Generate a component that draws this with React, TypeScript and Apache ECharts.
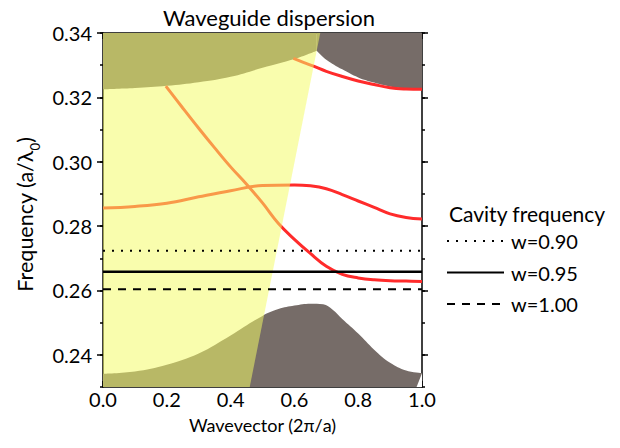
import React, { useEffect, useRef } from "react";
import * as echarts from "echarts";

// ---- data ----
const xMin = 0;
const xMax = 1;
const yMin = 0.23;
const yMax = 0.34;
const xLabelStep = 0.2;
const yMinorStep = 0.01;
const yMajorTicks = [0.24, 0.26, 0.28, 0.3, 0.32, 0.34];

const cavityNames = ["w=0.90", "w=0.95", "w=1.00"];
const cavityFreq = [0.2723, 0.2658, 0.2604];

// upper bulk band lower edge (two branches meeting at the light line)
const upperEdgeLeftK = [0, 0.1, 0.2, 0.3, 0.4, 0.5, 0.6, 0.67];
const upperEdgeLeftF = [0.3225, 0.3229, 0.3236, 0.3247, 0.3264, 0.3292, 0.3319, 0.3345];
const upperEdgeRightK = [0.67, 0.7, 0.75, 0.8, 0.85, 0.9, 0.95, 1.0];
const upperEdgeRightF = [0.3345, 0.3317, 0.3287, 0.3262, 0.3246, 0.3234, 0.3227, 0.3225];

// lower bulk band upper edge
const lowerEdgeK = [0, 0.1, 0.2, 0.3, 0.4, 0.5, 0.55, 0.6, 0.65, 0.69, 0.72, 0.75, 0.8, 0.85, 0.9, 0.95, 1];
const lowerEdgeF = [0.2341, 0.2348, 0.2369, 0.2404, 0.246, 0.2521, 0.2542, 0.2553, 0.2559, 0.2557, 0.254, 0.2511, 0.2466, 0.2416, 0.2375, 0.2351, 0.2343];

// guided modes
const modeAK = [0, 0.1, 0.2, 0.3, 0.4, 0.5, 0.6, 0.65, 0.7, 0.75, 0.8, 0.85, 0.9, 0.95, 1];
const modeAF = [0.2856, 0.2861, 0.2871, 0.2891, 0.291, 0.2926, 0.2928, 0.2925, 0.2916, 0.2898, 0.2878, 0.2858, 0.2838, 0.2827, 0.2822];
const modeBK = [0.197, 0.25, 0.3, 0.35, 0.4, 0.45, 0.5, 0.55, 0.6, 0.65, 0.7, 0.75, 0.8, 0.85, 0.9, 0.95, 1];
const modeBF = [0.3235, 0.3167, 0.3104, 0.3043, 0.2984, 0.293, 0.2872, 0.2808, 0.2759, 0.2715, 0.2675, 0.265, 0.2639, 0.2633, 0.263, 0.2629, 0.2628];
const modeCK = [0.597, 0.63, 0.66, 0.7, 0.75, 0.8, 0.85, 0.9, 0.95, 1];
const modeCF = [0.3321, 0.3308, 0.3297, 0.3281, 0.3265, 0.3251, 0.324, 0.323, 0.3226, 0.3225];

// light cone region
const lightConeK = [0, 0.46, 0.681, 0];
const lightConeF = [0.23, 0.23, 0.34, 0.34];

// small uncovered corner at bottom right
const cornerK = [0.983, 1, 1];
const cornerF = [0.23, 0.23, 0.2343];

// ---- styles ----
const FONT = "Lato, 'Open Sans', sans-serif";
const GREY = "#766c68";
const RED = "#ff2b2b";
const CONE = "rgba(244,252,100,0.53)";

const zip = (ks: number[], fs: number[]) => ks.map((k, i) => [k, fs[i]]);

const polygonSeries = (ks: number[], fs: number[], color: string, z: number) => ({
  type: "custom",
  z,
  silent: true,
  clip: true,
  data: [[ks[0], fs[0]]],
  renderItem: (_p: any, api: any) => ({
    type: "polygon",
    shape: { points: ks.map((k, i) => api.coord([k, fs[i]])) },
    style: { fill: color },
  }),
});

const bandSeries = (ks: number[], fs: number[], origin: string) => ({
  type: "line",
  z: 1,
  silent: true,
  data: zip(ks, fs),
  smooth: 0.4,
  showSymbol: false,
  symbol: "none",
  lineStyle: { width: 0, opacity: 0 },
  areaStyle: { color: GREY, opacity: 1, origin },
});

const modeSeries = (ks: number[], fs: number[]) => ({
  type: "line",
  z: 3,
  silent: true,
  data: zip(ks, fs),
  smooth: 0.4,
  showSymbol: false,
  symbol: "none",
  lineStyle: { color: RED, width: 3 },
});

const cavityStyles: any[] = [
  { color: "#000", width: 2, type: [2, 7] },
  { color: "#000", width: 2.6, type: "solid" },
  { color: "#000", width: 2, type: [8, 7] },
];

export default function App() {
  const ref = useRef<HTMLDivElement>(null);
  useEffect(() => {
    if (!ref.current) return;
    const chart = echarts.init(ref.current, undefined, { renderer: "svg" });
    const axisLine = { show: true, lineStyle: { color: "#000", width: 1.5 } };
    const tickStyle = { color: "#000", width: 1.5 };
    const labelStyle = { color: "#000", fontSize: 20, fontFamily: FONT };

    const option: any = {
      animation: false,
      backgroundColor: "#fff",
      textStyle: { fontFamily: FONT },
      title: [
        {
          text: "Waveguide dispersion",
          left: 264,
          top: 1,
          textAlign: "center",
          textStyle: { fontSize: 22, fontWeight: "normal", color: "#000", fontFamily: FONT },
        },
        {
          text: "Cavity frequency",
          left: 444,
          top: 198,
          textStyle: { fontSize: 21, fontWeight: "normal", color: "#000", fontFamily: FONT },
        },
      ],
      legend: {
        data: cavityNames,
        orient: "vertical",
        left: 446,
        top: 231,
        itemWidth: 57,
        itemHeight: 14,
        itemGap: 11.5,
        padding: 0,
        itemStyle: { opacity: 0 },
        textStyle: { fontSize: 20, color: "#000", fontFamily: FONT, padding: [0, 0, 0, 2] },
      },
      grid: { left: 103, right: 198, top: 33, bottom: 61, containLabel: false },
      xAxis: [
        {
          type: "value",
          position: "bottom",
          min: xMin,
          max: xMax,
          interval: xLabelStep,
          axisLine,
          axisTick: { show: true, inside: true, length: 6, lineStyle: tickStyle },
          minorTick: { show: true, splitNumber: 2, length: 3, lineStyle: tickStyle },
          splitLine: { show: false },
          axisLabel: { ...labelStyle, margin: 2, formatter: (v: number) => v.toFixed(1) },
          name: "Wavevector (2\u03c0/a)",
          nameLocation: "middle",
          nameGap: 29,
          nameTextStyle: { fontSize: 18, color: "#000", fontFamily: FONT },
        },
        {
          type: "value",
          position: "top",
          min: xMin,
          max: xMax,
          interval: xLabelStep,
          axisLine,
          axisTick: { show: true, inside: true, length: 6, lineStyle: tickStyle },
          minorTick: { show: true, splitNumber: 2, length: 3, lineStyle: tickStyle },
          splitLine: { show: false },
          axisLabel: { show: false },
        },
      ],
      yAxis: [
        {
          type: "value",
          position: "left",
          min: yMin,
          max: yMax,
          interval: yMinorStep,
          axisLine,
          axisTick: { show: true, inside: false, length: 3, lineStyle: tickStyle },
          splitLine: { show: false },
          axisLabel: {
            ...labelStyle,
            margin: 11,
            formatter: (v: number) =>
              yMajorTicks.some((t) => Math.abs(t - v) < 1e-6) ? v.toFixed(2) : "",
          },
          name: "{m|Frequency (a/\u03bb}{s|0}{m|)}",
          nameLocation: "middle",
          nameGap: 67,
          nameTextStyle: {
            color: "#000",
            fontFamily: FONT,
            padding: [0, 9, 0, 0],
            rich: {
              m: { fontSize: 21.5, fontFamily: FONT, color: "#000", lineHeight: 26, verticalAlign: "bottom" },
              s: { fontSize: 13, fontFamily: FONT, color: "#000", lineHeight: 26, verticalAlign: "bottom", padding: [0, 0, -5, 0] },
            },
          },
        },
        {
          type: "value",
          position: "left",
          min: yMin,
          max: yMax,
          axisLine: { show: false },
          axisTick: { show: true, inside: false, length: 6, lineStyle: tickStyle, customValues: yMajorTicks },
          splitLine: { show: false },
          axisLabel: { show: false },
        },
        {
          type: "value",
          position: "right",
          min: yMin,
          max: yMax,
          interval: yMinorStep,
          axisLine,
          axisTick: { show: true, inside: false, length: 3, lineStyle: tickStyle },
          splitLine: { show: false },
          axisLabel: { show: false },
        },
        {
          type: "value",
          position: "right",
          min: yMin,
          max: yMax,
          axisLine: { show: false },
          axisTick: { show: true, inside: false, length: 6, lineStyle: tickStyle, customValues: yMajorTicks },
          splitLine: { show: false },
          axisLabel: { show: false },
        },
      ],
      series: [
        bandSeries(upperEdgeLeftK, upperEdgeLeftF, "end"),
        bandSeries(upperEdgeRightK, upperEdgeRightF, "end"),
        bandSeries(lowerEdgeK, lowerEdgeF, "start"),
        polygonSeries(cornerK, cornerF, "#ffffff", 2),
        modeSeries(modeAK, modeAF),
        modeSeries(modeBK, modeBF),
        modeSeries(modeCK, modeCF),
        polygonSeries(lightConeK, lightConeF, CONE, 4),
        ...cavityNames.map((name, i) => ({
          name,
          type: "line",
          z: 5,
          silent: true,
          data: [
            [xMin, cavityFreq[i]],
            [xMax, cavityFreq[i]],
          ],
          showSymbol: false,
          symbol: "none",
          itemStyle: { color: "#000" },
          lineStyle: cavityStyles[i],
        })),
      ],
    };
    chart.setOption(option);
    return () => chart.dispose();
  }, []);

  return (
    <div
      ref={ref}
      style={{ position: "fixed", left: 0, top: 0, width: 620, height: 448, background: "#fff" }}
    />
  );
}
